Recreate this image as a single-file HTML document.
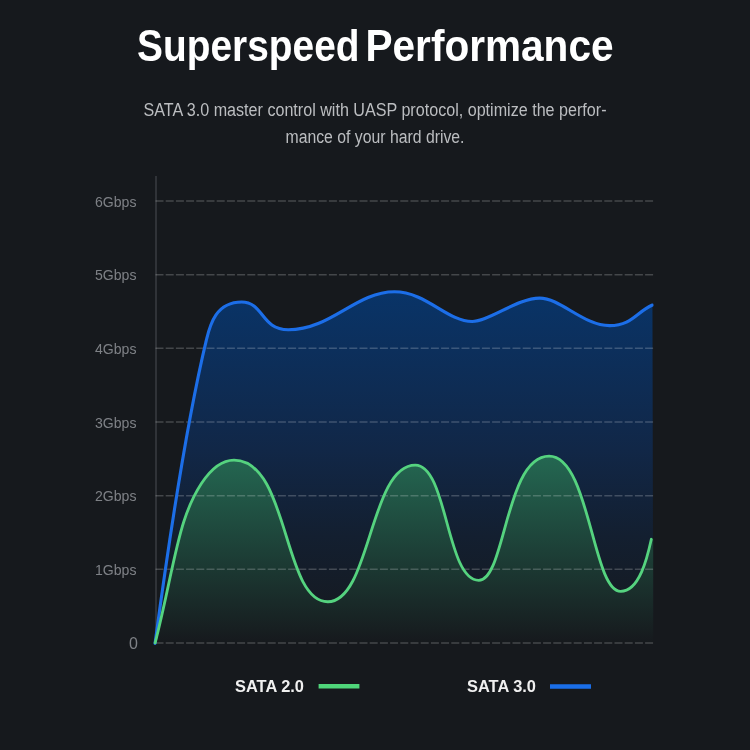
<!DOCTYPE html>
<html><head><meta charset="utf-8">
<style>
html,body{margin:0;padding:0;background:#16191d;width:750px;height:750px;overflow:hidden}
svg{display:block}
text{font-family:"Liberation Sans",sans-serif}
</style></head>
<body>
<svg width="750" height="750" viewBox="0 0 750 750">
<defs>
<linearGradient id="gb" x1="0" y1="290" x2="0" y2="643" gradientUnits="userSpaceOnUse">
<stop offset="0" stop-color="#093468"/>
<stop offset="0.453" stop-color="#112747"/>
<stop offset="0.697" stop-color="#131f30"/>
<stop offset="1" stop-color="#16181c"/>
</linearGradient>
<linearGradient id="gg" x1="0" y1="455" x2="0" y2="643" gradientUnits="userSpaceOnUse">
<stop offset="0" stop-color="#246852"/>
<stop offset="1" stop-color="#16191d"/>
</linearGradient>
<filter id="tb" x="-2%" y="-20%" width="104%" height="140%"><feGaussianBlur stdDeviation="0.3"/></filter>
<filter id="bl" x="-5%" y="-5%" width="110%" height="110%"><feGaussianBlur stdDeviation="0.5"/></filter>
<clipPath id="cl"><rect x="0" y="0" width="653.5" height="750"/></clipPath>
</defs>
<rect width="750" height="750" fill="#16191d"/>
<text x="137" y="61" font-size="45" font-weight="bold" fill="#ffffff" filter="url(#tb)" textLength="222.5" lengthAdjust="spacingAndGlyphs">Superspeed</text>
<text x="365.5" y="61" font-size="45" font-weight="bold" fill="#ffffff" filter="url(#tb)" textLength="248" lengthAdjust="spacingAndGlyphs">Performance</text>
<text x="375" y="116" font-size="18" fill="#bbbdc0" filter="url(#tb)" text-anchor="middle" textLength="463" lengthAdjust="spacingAndGlyphs">SATA 3.0 master control with UASP protocol, optimize the perfor-</text>
<text x="375" y="142.8" font-size="18" fill="#bbbdc0" filter="url(#tb)" text-anchor="middle" textLength="179" lengthAdjust="spacingAndGlyphs">mance of your hard drive.</text>
<line x1="156" y1="176" x2="156" y2="643" stroke="#3a3d42" stroke-width="1.5"/>
<path d="M155.06,643.36 C162.31,589.49 183.42,435.35 206.40,339.77 C210.25,323.74 216.42,302.05 241.68,302.05 C263.95,302.05 260.79,329.74 288.29,329.74 C331.25,329.74 355.51,291.78 394.52,291.78 C425.88,291.78 447.65,321.57 472.14,321.57 C488.87,321.57 517.20,298.14 539.72,298.14 C560.73,298.14 583.40,325.65 609.72,325.65 C631.89,325.65 636.66,311.75 652.45,305.01 L653.2,643 L156,643 Z" fill="url(#gb)"/>
<path d="M155.13,642.82 C167.01,597.44 174.14,551.10 183.93,521.19 C190.12,502.30 207.63,460.14 234.01,460.14 C289.20,460.14 282.66,601.74 327.81,601.74 C370.66,601.74 369.55,465.13 415.29,465.13 C447.51,465.13 446.22,580.36 478.81,580.36 C505.35,580.36 505.32,456.21 549.07,456.21 C589.77,456.21 592.40,591.41 620.68,591.41 C639.38,591.41 647.32,557.54 651.33,539.28 L653.2,539.3 L653.2,643 L156,643 Z" fill="url(#gg)"/>
<g stroke="#ffffff" stroke-opacity="0.2" stroke-width="1.6" stroke-dasharray="8 2.2">
<line x1="155.5" y1="201" x2="653.5" y2="201"/>
<line x1="155.5" y1="274.7" x2="653.5" y2="274.7"/>
<line x1="155.5" y1="348.3" x2="653.5" y2="348.3"/>
<line x1="155.5" y1="422" x2="653.5" y2="422"/>
<line x1="155.5" y1="495.7" x2="653.5" y2="495.7"/>
<line x1="155.5" y1="569.3" x2="653.5" y2="569.3"/>
<line x1="155.5" y1="643" x2="653.5" y2="643"/>
</g>
<g clip-path="url(#cl)"><path d="M155.06,643.36 C162.31,589.49 183.42,435.35 206.40,339.77 C210.25,323.74 216.42,302.05 241.68,302.05 C263.95,302.05 260.79,329.74 288.29,329.74 C331.25,329.74 355.51,291.78 394.52,291.78 C425.88,291.78 447.65,321.57 472.14,321.57 C488.87,321.57 517.20,298.14 539.72,298.14 C560.73,298.14 583.40,325.65 609.72,325.65 C631.89,325.65 636.66,311.75 652.45,305.01" fill="none" stroke="#1c6ee8" stroke-width="3.1" stroke-linecap="round" stroke-linejoin="round" filter="url(#bl)"/>
<path d="M155.13,642.82 C167.01,597.44 174.14,551.10 183.93,521.19 C190.12,502.30 207.63,460.14 234.01,460.14 C289.20,460.14 282.66,601.74 327.81,601.74 C370.66,601.74 369.55,465.13 415.29,465.13 C447.51,465.13 446.22,580.36 478.81,580.36 C505.35,580.36 505.32,456.21 549.07,456.21 C589.77,456.21 592.40,591.41 620.68,591.41 C639.38,591.41 647.32,557.54 651.33,539.28" fill="none" stroke="#55d37f" stroke-width="2.8" stroke-linecap="round" stroke-linejoin="round" filter="url(#bl)"/></g>
<g font-size="15" fill="#7e8186" text-anchor="end" filter="url(#tb)">
<text x="136.5" y="206.7" textLength="41.5" lengthAdjust="spacingAndGlyphs">6Gbps</text>
<text x="136.5" y="280.4" textLength="41.5" lengthAdjust="spacingAndGlyphs">5Gbps</text>
<text x="136.5" y="354" textLength="41.5" lengthAdjust="spacingAndGlyphs">4Gbps</text>
<text x="136.5" y="427.7" textLength="41.5" lengthAdjust="spacingAndGlyphs">3Gbps</text>
<text x="136.5" y="501.4" textLength="41.5" lengthAdjust="spacingAndGlyphs">2Gbps</text>
<text x="136.5" y="575" textLength="41.5" lengthAdjust="spacingAndGlyphs">1Gbps</text>
<text x="138" y="648.5" font-size="16">0</text>
</g>
<text x="235" y="692.3" font-size="17" font-weight="bold" fill="#f0f0f0" filter="url(#tb)" textLength="69" lengthAdjust="spacingAndGlyphs">SATA 2.0</text>
<line x1="318.6" y1="686.3" x2="359.4" y2="686.3" stroke="#4fd67a" stroke-width="4.4"/>
<text x="467" y="692.3" font-size="17" font-weight="bold" fill="#f0f0f0" filter="url(#tb)" textLength="69" lengthAdjust="spacingAndGlyphs">SATA 3.0</text>
<line x1="550" y1="686.5" x2="591" y2="686.5" stroke="#1a6ee8" stroke-width="4.4"/>
</svg>
</body></html>
